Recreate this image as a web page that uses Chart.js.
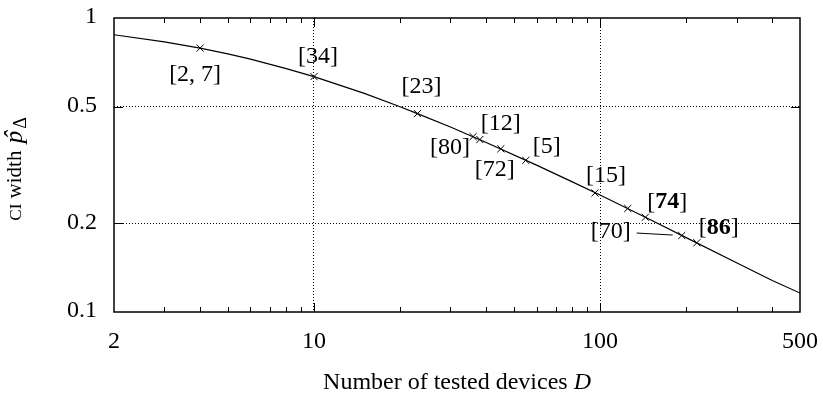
<!DOCTYPE html>
<html>
<head>
<meta charset="utf-8">
<script src="https://cdn.jsdelivr.net/npm/chart.js@4.4.1/dist/chart.umd.min.js"></script>
<style>
  html, body { margin: 0; padding: 0; background: #fff; }
</style>
</head>
<body>
<canvas id="ciChart" width="823" height="397"></canvas>
<script>
// CI width of the estimate against the number of tested devices
const curveDevices = [2, 3, 4, 5, 6, 8, 10, 15, 20, 23, 30, 40, 60, 80, 100, 150, 200, 300, 400, 500];
const curveWidth = [0.877, 0.830, 0.790, 0.755, 0.725, 0.673, 0.632, 0.554, 0.499, 0.473, 0.426, 0.377, 0.316, 0.277, 0.250, 0.206, 0.179, 0.147, 0.128, 0.116];

// studies placed on the curve
const studyDevices = [4, 10, 23, 36, 38, 45, 55, 96, 125, 144, 193, 218];
const studyWidth = [0.790, 0.632, 0.473, 0.395, 0.386, 0.359, 0.328, 0.254, 0.225, 0.210, 0.182, 0.172];
const studyRefs = ['2, 7', '34', '23', '80', '12', '72', '5', '15', '', '74', '70', '86'];
const boldRefs = ['74', '86'];

const xTicks = [2, 10, 100, 500];
const yTicks = [0.1, 0.2, 0.5, 1];
const xMinorTicks = [3, 4, 5, 6, 7, 8, 9, 20, 30, 40, 50, 60, 70, 80, 90, 200, 300, 400];

// where each reference label sits relative to its marker (px)
const refOffsets = [[-5, 27], [4, -20], [4, -27], [-23, 11], [21, -16], [-6, 21], [21, -14], [11, -17], [0, 0], [22, -15], [-71, -4], [22, -15]];

const serif = '"Liberation Serif", "Times New Roman", serif';
const fontSize = 24;

function drawRuns(ctx, runs, x, y, align) {
  // runs: [text, font, dy, gapBefore]
  let total = 0;
  runs.forEach(r => { ctx.font = r[1]; total += ctx.measureText(r[0]).width + (r[3] || 0); });
  let cx = align === 'center' ? x - total / 2 : x;
  ctx.textAlign = 'left';
  runs.forEach(r => {
    ctx.font = r[1];
    cx += r[3] || 0;
    ctx.fillText(r[0], cx, y + (r[2] || 0));
    cx += ctx.measureText(r[0]).width;
  });
  return total;
}

const decorations = {
  id: 'decorations',
  afterDatasetsDraw(chart) {
    const ctx = chart.ctx;
    const meta = chart.getDatasetMeta(1);
    const regular = fontSize + 'px ' + serif;
    const bold = 'bold ' + fontSize + 'px ' + serif;
    ctx.save();
    ctx.fillStyle = '#000';
    ctx.textBaseline = 'middle';
    meta.data.forEach((pt, i) => {
      const ref = studyRefs[i];
      if (!ref) return;
      const cx = pt.x + refOffsets[i][0];
      const cy = pt.y + refOffsets[i][1];
      const f = boldRefs.includes(ref) ? bold : regular;
      drawRuns(ctx, [['[', regular], [ref, f], [']', regular]], cx, cy, 'center');
      if (ref === '70') {
        // leader from the label to its marker
        ctx.strokeStyle = '#000';
        ctx.lineWidth = 1;
        ctx.beginPath();
        ctx.moveTo(pt.x - 45, pt.y - 2.5);
        ctx.lineTo(pt.x - 9, pt.y - 0.5);
        ctx.stroke();
      }
    });
    ctx.restore();
  },
  afterDraw(chart) {
    const {ctx, chartArea: a, scales: {x, y}} = chart;
    ctx.save();
    ctx.strokeStyle = '#000';
    ctx.lineWidth = 1;
    const seg = (x1, y1, x2, y2) => { ctx.beginPath(); ctx.moveTo(x1, y1); ctx.lineTo(x2, y2); ctx.stroke(); };
    xMinorTicks.forEach(d => {
      const px = Math.round(x.getPixelForValue(d)) + 0.5;
      seg(px, a.bottom, px, a.bottom - 5);
      seg(px, a.top, px, a.top + 5);
    });
    [10, 100].forEach(d => {
      const px = Math.round(x.getPixelForValue(d)) + 0.5;
      seg(px, a.bottom, px, a.bottom - 9);
      seg(px, a.top, px, a.top + 9);
    });
    [0.2, 0.5].forEach(v => {
      const py = Math.round(y.getPixelForValue(v)) + 0.5;
      seg(a.left, py, a.left + 9, py);
      seg(a.right, py, a.right - 9, py);
    });
    ctx.lineWidth = 1.5;
    ctx.strokeRect(a.left, a.top, a.right - a.left, a.bottom - a.top);

    // tick labels
    const regular = fontSize + 'px ' + serif;
    const italic = 'italic ' + fontSize + 'px ' + serif;
    ctx.fillStyle = '#000';
    ctx.font = regular;
    ctx.textBaseline = 'middle';
    ctx.textAlign = 'center';
    xTicks.forEach(v => ctx.fillText(String(v), x.getPixelForValue(v), a.bottom + 30));
    ctx.textAlign = 'right';
    yTicks.forEach(v => ctx.fillText(String(v), a.left - 17, y.getPixelForValue(v) - 1));

    // axis titles
    drawRuns(ctx, [['Number of tested devices ', regular], ['D', italic]], (a.left + a.right) / 2, 383, 'center');

    ctx.translate(15, (a.top + a.bottom) / 2 + 4);
    ctx.rotate(-Math.PI / 2);
    const runs = [
      ['CI', '17px ' + serif, 2],
      [' width ', '21px ' + serif, 0],
      ['p', 'italic 25px ' + serif, 0, 2],
      ['Δ', '18px ' + serif, 6, 2]
    ];
    let total = 0;
    runs.forEach(r => { ctx.font = r[1]; total += ctx.measureText(r[0]).width + (r[3] || 0); });
    let cx = -total / 2;
    runs.forEach(r => {
      ctx.font = r[1];
      ctx.textAlign = 'left';
      cx += r[3] || 0;
      ctx.fillText(r[0], cx, r[2] || 0);
      if (r[0] === 'p') {
        ctx.textAlign = 'center';
        ctx.fillText('ˆ', cx + ctx.measureText('p').width / 2 + 2, 0);
      }
      cx += ctx.measureText(r[0]).width;
    });
    ctx.restore();
  }
};

const gridColor = vals => c => (c.tick && vals.includes(c.tick.value)) ? '#000' : 'rgba(0,0,0,0)';

new Chart(document.getElementById('ciChart'), {
  type: 'line',
  data: {
    datasets: [{
      data: curveDevices.map((d, i) => ({x: d, y: curveWidth[i]})),
      borderColor: '#000',
      borderWidth: 1.2,
      pointRadius: 0,
      tension: 0,
      fill: false
    }, {
      data: studyDevices.map((d, i) => ({x: d, y: studyWidth[i]})),
      showLine: false,
      pointStyle: 'crossRot',
      pointRadius: 5,
      borderColor: '#000',
      borderWidth: 1,
      pointBorderColor: '#000'
    }]
  },
  options: {
    responsive: false,
    animation: false,
    layout: { padding: { top: 18, right: 23, left: 0, bottom: 0 } },
    plugins: { legend: { display: false }, tooltip: { enabled: false } },
    scales: {
      x: {
        type: 'logarithmic',
        min: 2,
        max: 500,
        afterBuildTicks: s => { s.ticks = xTicks.map(v => ({value: v})); },
        afterFit: s => { s.height = 85; },
        ticks: { display: false },
        grid: { drawTicks: false, color: gridColor([10, 100]), lineWidth: 1 },
        border: { display: false, dash: [1, 2] }
      },
      y: {
        type: 'logarithmic',
        min: 0.1,
        max: 1,
        afterBuildTicks: s => { s.ticks = yTicks.map(v => ({value: v})); },
        afterFit: s => { s.width = 114; },
        ticks: { display: false },
        grid: { drawTicks: false, color: gridColor([0.2, 0.5]), lineWidth: 1 },
        border: { display: false, dash: [1, 2] }
      }
    }
  },
  plugins: [decorations]
});
</script>
</body>
</html>
